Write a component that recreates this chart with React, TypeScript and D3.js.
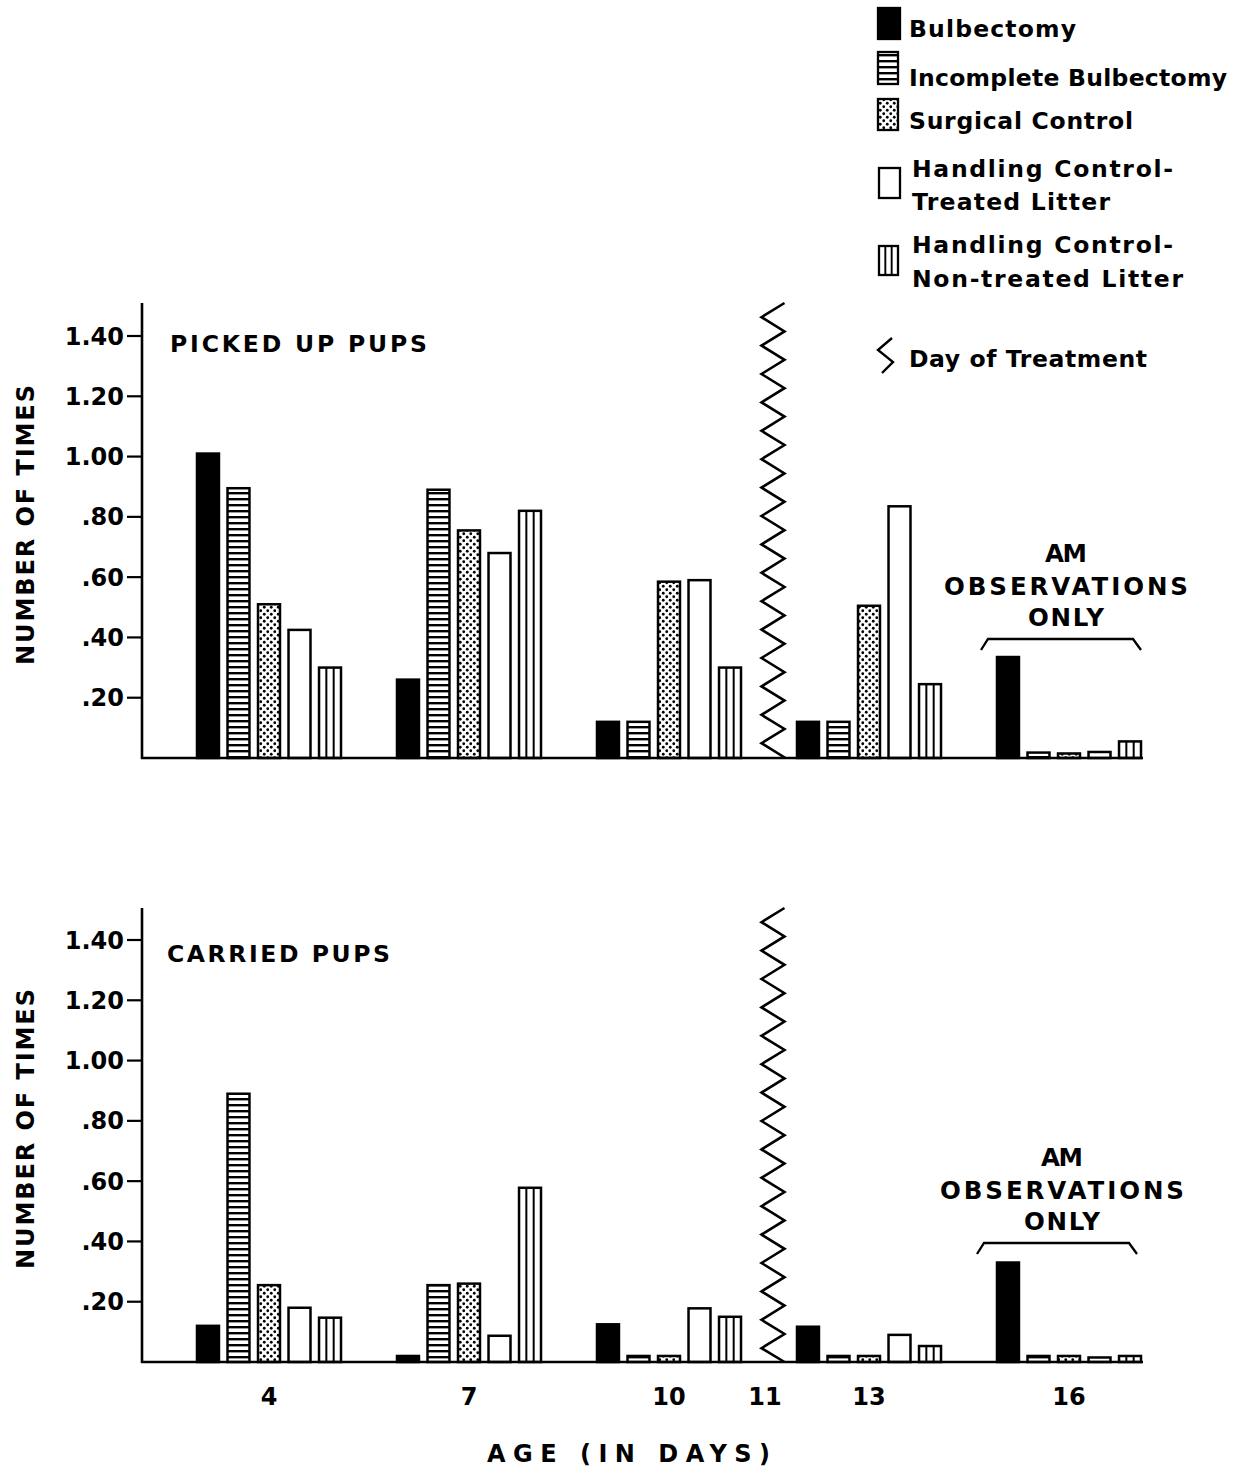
import React from 'react';
import * as d3 from 'd3';

// Age groups (days) and the five treatment groups
const days = ['4', '7', '10', '13', '16'];
const groups = [
  'Bulbectomy',
  'Incomplete Bulbectomy',
  'Surgical Control',
  'Handling Control-Treated Litter',
  'Handling Control-Non-treated Litter',
];
const treatmentDay = '11';
const yTicks = [0.2, 0.4, 0.6, 0.8, 1.0, 1.2, 1.4];

// Picked up pups: mean number of times, per group, by age
const pickedBulbectomy = [1.01, 0.26, 0.12, 0.12, 0.335];
const pickedIncomplete = [0.895, 0.89, 0.12, 0.12, 0.018];
const pickedSurgical = [0.51, 0.755, 0.585, 0.505, 0.015];
const pickedTreatedLitter = [0.425, 0.68, 0.59, 0.835, 0.02];
const pickedNonTreatedLitter = [0.3, 0.82, 0.3, 0.245, 0.055];

// Carried pups: mean number of times, per group, by age
const carriedBulbectomy = [0.12, 0.02, 0.125, 0.117, 0.33];
const carriedIncomplete = [0.89, 0.255, 0.02, 0.02, 0.02];
const carriedSurgical = [0.255, 0.26, 0.02, 0.02, 0.02];
const carriedTreatedLitter = [0.18, 0.087, 0.178, 0.09, 0.015];
const carriedNonTreatedLitter = [0.147, 0.578, 0.15, 0.053, 0.02];

const legendLines = [
  ['Bulbectomy'],
  ['Incomplete Bulbectomy'],
  ['Surgical Control'],
  ['Handling Control-', 'Treated Litter'],
  ['Handling Control-', 'Non-treated Litter'],
];

const FONT = '"DejaVu Sans", Verdana, sans-serif';
const W = 1250;
const H = 1473;

const panels = [
  {
    title: 'PICKED UP PUPS',
    baseline: 758,
    axisTop: 303,
    series: [pickedBulbectomy, pickedIncomplete, pickedSurgical, pickedTreatedLitter, pickedNonTreatedLitter],
    titleX: 170,
    titleLen: 257,
    titleY: 352,
    noteDx: 0,
  },
  {
    title: 'CARRIED PUPS',
    baseline: 1362,
    axisTop: 908,
    series: [carriedBulbectomy, carriedIncomplete, carriedSurgical, carriedTreatedLitter, carriedNonTreatedLitter],
    titleX: 167,
    titleLen: 223,
    titleY: 962,
    noteDx: -4,
  },
];

const fills = ['#000', 'url(#hstripe)', 'url(#dots)', '#fff', '#fff'];

const x = d3.scalePoint<string>().domain(days).range([269, 1069]);
const xInner = d3.scaleBand<string>().domain(groups).range([-72, 72]).paddingInner(0.28);
const treatX = ((x('10') as number) + (x('13') as number)) / 2;

const tickFmt = (d: number) => (d >= 1 ? d.toFixed(2) : d.toFixed(2).slice(1));

function zigzag(xc: number, top: number, bottom: number, half: number, step: number) {
  const pts: [number, number][] = [];
  let yy = top;
  let right = true;
  while (yy < bottom) {
    pts.push([xc + (right ? half : -half), yy]);
    yy += step;
    right = !right;
  }
  pts.push([xc + half, bottom]);
  return d3.line()(pts) as string;
}

function Bar({ gx, gi, v, y, baseline }: { gx: number; gi: number; v: number; y: d3.ScaleLinear<number, number>; baseline: number }) {
  const bx = gx + (xInner(groups[gi]) as number);
  const bw = xInner.bandwidth();
  const by = y(v);
  const bh = baseline - by;
  return (
    <g>
      <rect x={bx} y={by} width={bw} height={bh} fill={fills[gi]} stroke="#000" strokeWidth={2.5} />
      {gi === 4 &&
        [1, 2].map((k) => (
          <line key={k} x1={bx + (bw * k) / 3} x2={bx + (bw * k) / 3} y1={by} y2={baseline} stroke="#000" strokeWidth={2} />
        ))}
    </g>
  );
}

function Panel({ p }: { p: (typeof panels)[number] }) {
  const y = d3.scaleLinear().domain([0, 1.4]).range([p.baseline, p.baseline - 422]);
  const noteX = 1066 + p.noteDx;
  const off = p.baseline - 758;
  return (
    <g>
      {/* y axis */}
      <line x1={142} x2={142} y1={p.axisTop} y2={p.baseline + 1} stroke="#000" strokeWidth={2.6} />
      {yTicks.map((t) => (
        <g key={t}>
          <line x1={127} x2={142} y1={y(t)} y2={y(t)} stroke="#000" strokeWidth={2.2} />
          <text x={124} y={y(t)} dy="0.36em" textAnchor="end" fontFamily={FONT} fontWeight="bold" fontSize={24}>
            {tickFmt(t)}
          </text>
        </g>
      ))}
      <text
        transform={`translate(34,${p.baseline - 233}) rotate(-90)`}
        textAnchor="middle"
        fontFamily={FONT}
        fontWeight="bold"
        fontSize={24}
        textLength={280}
        lengthAdjust="spacing"
      >
        NUMBER OF TIMES
      </text>
      <text x={p.titleX} y={p.titleY} fontFamily={FONT} fontWeight="bold" fontSize={23.5} textLength={p.titleLen} lengthAdjust="spacing">
        {p.title}
      </text>

      {/* bars */}
      {days.map((d, di) => (
        <g key={d}>
          {groups.map((g, gi) => (
            <Bar key={g} gx={x(d) as number} gi={gi} v={p.series[gi][di]} y={y} baseline={p.baseline} />
          ))}
        </g>
      ))}

      {/* baseline */}
      <line x1={141} x2={1143} y1={p.baseline} y2={p.baseline} stroke="#000" strokeWidth={2.6} />

      {/* day of treatment marker */}
      <path d={zigzag(treatX + 4, p.axisTop, p.baseline, 11.5, 14.2)} fill="none" stroke="#000" strokeWidth={2.6} strokeLinejoin="miter" />

      {/* AM observations note */}
      {[
        ['AM', 562, 42],
        ['OBSERVATIONS', 595, 244],
        ['ONLY', 626, 76],
      ].map(([t, ty, len]) => (
        <text
          key={t as string}
          x={noteX}
          y={(ty as number) + off}
          textAnchor="middle"
          fontFamily={FONT}
          fontWeight="bold"
          fontSize={24.5}
          textLength={len as number}
          lengthAdjust="spacing"
        >
          {t}
        </text>
      ))}
      <path
        d={`M${noteX - 85},${650 + off} L${noteX - 78},${639 + off} L${noteX + 67},${639 + off} L${noteX + 75},${650 + off}`}
        fill="none"
        stroke="#000"
        strokeWidth={2.3}
      />
    </g>
  );
}

function Legend() {
  const rows = [
    { icon: [878, 8, 22, 31], lines: [37] },
    { icon: [878, 52, 20, 32], lines: [86] },
    { icon: [878, 99, 20, 31], lines: [129] },
    { icon: [879, 168, 21, 30], lines: [177, 210] },
    { icon: [879, 246, 19, 29], lines: [253, 287] },
  ];
  const lens = [[167], [318], [224], [261, 198], [261, 271]];
  return (
    <g>
      {rows.map((r, i) => {
        const [ix, iy, iw, ih] = r.icon;
        return (
          <g key={i}>
            <rect x={ix} y={iy} width={iw} height={ih} fill={fills[i]} stroke="#000" strokeWidth={2.3} />
            {i === 4 &&
              [1, 2].map((k) => (
                <line key={k} x1={ix + (iw * k) / 3} x2={ix + (iw * k) / 3} y1={iy} y2={iy + ih} stroke="#000" strokeWidth={1.9} />
              ))}
            {legendLines[i].map((t, li) => (
              <text
                key={li}
                x={i >= 3 ? 912 : 909}
                y={r.lines[li]}
                fontFamily={FONT}
                fontWeight="bold"
                fontSize={23.5}
                textLength={lens[i][li]}
                lengthAdjust="spacing"
              >
                {t}
              </text>
            ))}
          </g>
        );
      })}
      <path d="M892,338 L878,350 L893,362 L882,373" fill="none" stroke="#000" strokeWidth={2.4} />
      <text x={909} y={367} fontFamily={FONT} fontWeight="bold" fontSize={23.5} textLength={238} lengthAdjust="spacing">
        Day of Treatment
      </text>
    </g>
  );
}

export default function App() {
  return (
    <svg width={W} height={H} viewBox={`0 0 ${W} ${H}`} style={{ position: 'absolute', left: 0, top: 0, background: '#fff' }}>
      <defs>
        <pattern id="hstripe" patternUnits="userSpaceOnUse" width={8} height={6}>
          <rect width={8} height={6} fill="#fff" />
          <rect width={8} height={2.4} fill="#000" />
        </pattern>
        <pattern id="dots" patternUnits="userSpaceOnUse" width={7} height={7}>
          <rect width={7} height={7} fill="#fff" />
          <circle cx={1.75} cy={1.75} r={1.4} fill="#000" />
          <circle cx={5.25} cy={5.25} r={1.4} fill="#000" />
        </pattern>
      </defs>
      <rect width={W} height={H} fill="#fff" />
      <Legend />
      {panels.map((p) => (
        <Panel key={p.title} p={p} />
      ))}
      {/* shared x axis labels */}
      {days.map((d) => (
        <text key={d} x={x(d)} y={1405} textAnchor="middle" fontFamily={FONT} fontWeight="bold" fontSize={24}>
          {d}
        </text>
      ))}
      <text x={treatX - 4} y={1405} textAnchor="middle" fontFamily={FONT} fontWeight="bold" fontSize={24}>
        {treatmentDay}
      </text>
      <text x={487} y={1462} fontFamily={FONT} fontWeight="bold" fontSize={24} textLength={283} lengthAdjust="spacing">
        AGE (IN DAYS)
      </text>
    </svg>
  );
}
